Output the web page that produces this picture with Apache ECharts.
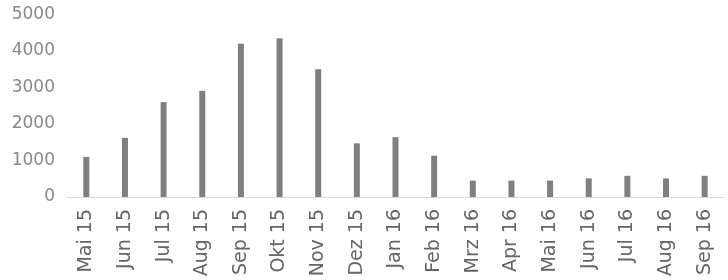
<!DOCTYPE html>
<html>
<head>
<meta charset="utf-8">
<script src="https://cdn.jsdelivr.net/npm/echarts@6/dist/echarts.min.js"></script>
<style>
    html, body { margin: 0; padding: 0; background: #fff; }
    #main { width: 728px; height: 280px; }
</style>
</head>
<body>
<div id="main"></div>
<script>
// monate
var months = ['Mai 15', 'Jun 15', 'Jul 15', 'Aug 15', 'Sep 15', 'Okt 15', 'Nov 15', 'Dez 15',
    'Jan 16', 'Feb 16', 'Mrz 16', 'Apr 16', 'Mai 16', 'Jun 16', 'Jul 16', 'Aug 16', 'Sep 16'];
var values = [1100, 1620, 2600, 2910, 4200, 4350, 3500, 1470,
    1640, 1130, 450, 450, 450, 510, 580, 510, 580];
var yTicks = [0, 1000, 2000, 3000, 4000, 5000];

var chart = echarts.init(document.getElementById('main'));
chart.setOption({
    animation: false,
    grid: { left: 67, right: 4, top: 14.5, bottom: 83, containLabel: false, outerBoundsMode: 'none' },
    xAxis: {
        type: 'category',
        data: months,
        axisLine: { lineStyle: { color: '#d9d9d9', width: 1 } },
        axisTick: { show: false },
        axisLabel: {
            rotate: 90,
            interval: 0,
            margin: 12,
            color: '#666666',
            fontFamily: 'DejaVu Sans',
            fontSize: 19
        }
    },
    yAxis: {
        type: 'value',
        min: yTicks[0],
        max: yTicks[yTicks.length - 1],
        interval: 1000,
        splitLine: { show: false },
        axisLine: { show: false },
        axisTick: { show: false },
        axisLabel: {
            margin: 12,
            color: '#888888',
            fontFamily: 'DejaVu Sans',
            fontSize: 17,
            formatter: function(v) { return String(v); }
        }
    },
    series: [{
        type: 'bar',
        data: values,
        barWidth: 6,
        itemStyle: { color: '#7f7f7f' }
    }]
});
</script>
</body>
</html>
